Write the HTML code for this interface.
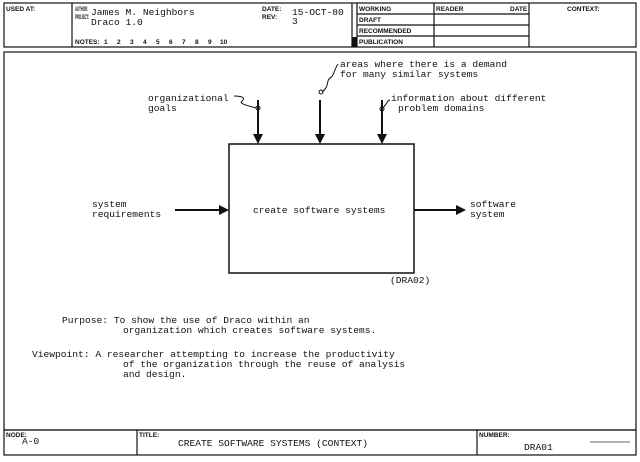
<!DOCTYPE html>
<html><head><meta charset="utf-8"><style>
body{margin:0;background:#fff;}
svg{display:block}
.m{font-family:"Liberation Mono",monospace;font-size:9.6px;fill:#111}
.s{font-family:"Liberation Sans",sans-serif;font-size:6.5px;font-weight:bold;fill:#111}
</style></head><body>
<svg width="640" height="462" viewBox="0 0 640 462">
<g stroke="#111" fill="none" stroke-width="1.2">
<rect x="4" y="3" width="632" height="44"/>
<line x1="72" y1="3" x2="72" y2="47"/>
<line x1="352" y1="3" x2="352" y2="47"/>
<line x1="357" y1="3" x2="357" y2="47"/>
<line x1="434" y1="3" x2="434" y2="47"/>
<line x1="529" y1="3" x2="529" y2="47"/>
<line x1="357" y1="14" x2="529" y2="14"/>
<line x1="357" y1="25" x2="529" y2="25"/>
<line x1="357" y1="36" x2="529" y2="36"/>
<rect x="4" y="52" width="632" height="378"/>
<rect x="4" y="430" width="632" height="25"/>
<line x1="137" y1="430" x2="137" y2="455"/>
<line x1="477" y1="430" x2="477" y2="455"/>
<line x1="590" y1="442" x2="630" y2="442" stroke="#888"/>
</g>
<rect x="352" y="37" width="5" height="10" fill="#111"/>
<text class="s" x="6" y="11">USED AT:</text>
<text class="s" x="75" y="11" textLength="13" lengthAdjust="spacingAndGlyphs">AUTHOR:</text>
<text class="s" x="75" y="19" textLength="14" lengthAdjust="spacingAndGlyphs">PROJECT:</text>
<text class="m" x="91" y="15">James M. Neighbors</text>
<text class="m" x="91" y="25">Draco 1.0</text>
<text class="s" x="75" y="44">NOTES:</text>
<text class="s" x="104" y="44">1</text><text class="s" x="117" y="44">2</text><text class="s" x="130" y="44">3</text><text class="s" x="143" y="44">4</text><text class="s" x="156" y="44">5</text><text class="s" x="169" y="44">6</text><text class="s" x="182" y="44">7</text><text class="s" x="195" y="44">8</text><text class="s" x="208" y="44">9</text><text class="s" x="220" y="44">10</text>
<text class="s" x="262" y="11">DATE:</text>
<text class="s" x="262" y="19">REV:</text>
<text class="m" x="292" y="15">15-OCT-80</text>
<text class="m" x="292" y="24">3</text>
<text class="s" x="359" y="11">WORKING</text>
<text class="s" x="359" y="22">DRAFT</text>
<text class="s" x="359" y="33">RECOMMENDED</text>
<text class="s" x="359" y="44">PUBLICATION</text>
<text class="s" x="436" y="11">READER</text>
<text class="s" x="510" y="11">DATE</text>
<text class="s" x="567" y="11">CONTEXT:</text>
<g stroke="#111" fill="none" stroke-width="2">
<rect x="229" y="144" width="185" height="129" stroke-width="1.5"/>
<line x1="258" y1="100" x2="258" y2="136"/>
<line x1="320" y1="100" x2="320" y2="136"/>
<line x1="382" y1="100" x2="382" y2="136"/>
<line x1="175" y1="210" x2="221" y2="210"/>
<line x1="414" y1="210" x2="458" y2="210"/>
</g>
<g fill="#111">
<polygon points="253,134 263,134 258,144"/>
<polygon points="315,134 325,134 320,144"/>
<polygon points="377,134 387,134 382,144"/>
<polygon points="219,205 219,215 229,210"/>
<polygon points="456,205 456,215 466,210"/>
</g>
<g stroke="#111" fill="none" stroke-width="1">
<path d="M234,96 C242,96 246,98 242,101 C238,104 250,106 256,108"/>
<path d="M338,64 C334,70 334,76 330,78 C326,80 330,86 322,92"/>
<path d="M390,100 C386,101 388,103 386,104 C384,106 384,108 382,108"/>
<circle cx="258" cy="108" r="2"/><circle cx="321" cy="92" r="2"/><circle cx="382" cy="109" r="2"/>
</g>
<text class="m" x="340" y="67">areas where there is a demand</text>
<text class="m" x="340" y="77">for many similar systems</text>
<text class="m" x="148" y="101">organizational</text>
<text class="m" x="148" y="111">goals</text>
<text class="m" x="391" y="101">information about different</text>
<text class="m" x="398" y="111">problem domains</text>
<text class="m" x="253" y="213">create software systems</text>
<text class="m" x="92" y="207">system</text>
<text class="m" x="92" y="217">requirements</text>
<text class="m" x="470" y="207">software</text>
<text class="m" x="470" y="217">system</text>
<text class="m" x="390" y="283">(DRA02)</text>
<text class="m" x="62" y="323">Purpose: To show the use of Draco within an</text>
<text class="m" x="123" y="333">organization which creates software systems.</text>
<text class="m" x="32" y="357">Viewpoint: A researcher attempting to increase the productivity</text>
<text class="m" x="123" y="367">of the organization through the reuse of analysis</text>
<text class="m" x="123" y="377">and design.</text>
<text class="s" x="6" y="437">NODE:</text>
<text class="m" x="22" y="444">A-0</text>
<text class="s" x="139" y="437">TITLE:</text>
<text class="m" x="178" y="446">CREATE SOFTWARE SYSTEMS (CONTEXT)</text>
<text class="s" x="479" y="437">NUMBER:</text>
<text class="m" x="524" y="450">DRA01</text>
</svg>
</body></html>
